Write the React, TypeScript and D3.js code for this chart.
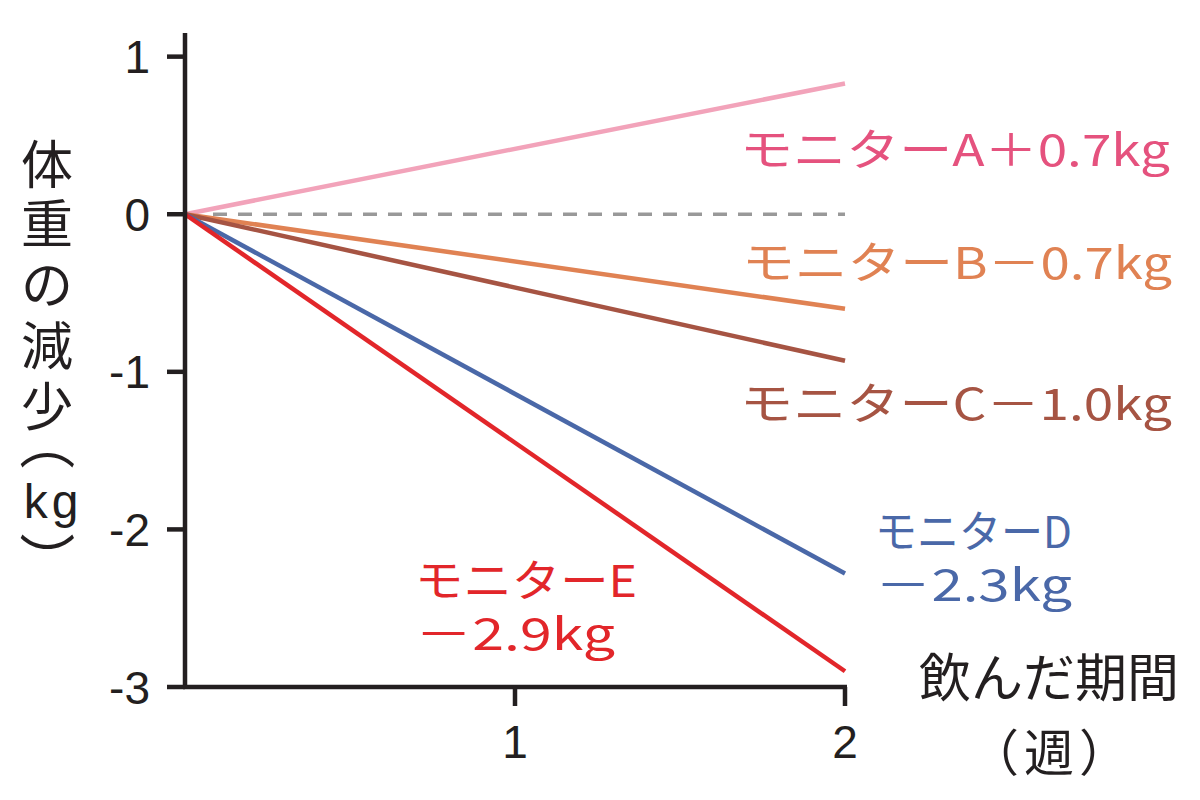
import React from "react";
import * as d3 from "d3";

const weeks = [0, 2];
const seriesNames = ["A", "B", "C", "D", "E"];
const seriesA = [0, 0.83];
const seriesB = [0, -0.6];
const seriesC = [0, -0.93];
const seriesD = [0, -2.28];
const seriesE = [0, -2.9];
const lineColors = ["#f2a3ba", "#e08253", "#a65443", "#4a68a8", "#e2262a"];
const labelColors = ["#e5527e", "#e08253", "#a65443", "#4a68a8", "#e2262a"];
const yTicks = [1, 0, -1, -2, -3];
const xTicks = [1, 2];
const yTitleChars = ["体", "重", "の", "減", "少"];
const yUnit = "kg";
const xTitle = "飲んだ期間";
const xUnitChars = ["（", "週", "）"];
const labelA = "モニターA＋0.7kg";
const labelB = "モニターB－0.7kg";
const labelC = "モニターC－1.0kg";
const labelD = ["モニターD", "－2.3kg"];
const labelE = ["モニターE", "－2.9kg"];

const JP = "'Noto Sans CJK JP', 'Noto Sans', sans-serif";
const NUM = "'Liberation Sans', Arial, sans-serif";

export default function App() {
  const x = d3.scaleLinear().domain([0, 2]).range([185, 845]);
  const y = d3.scaleLinear().domain([-3, 1.15]).range([687, 33]);
  const series = [seriesA, seriesB, seriesC, seriesD, seriesE];
  const line = d3
    .line<number>()
    .x((_, i) => x(weeks[i]))
    .y((d) => y(d));

  const yCenters = [161, 220, 281, 342, 403];
  const parenX = 50;
  const topParenY = 442;
  const botParenY = 560;
  const xUnitX = [994, 1049, 1104];

  return (
    <svg width={1200} height={800} style={{ position: "absolute", left: 0, top: 0, background: "#fff" }}>
      <rect width={1200} height={800} fill="#fff" />
      {/* zero dashed line */}
      <line x1={x(0) + 28} x2={x(2)} y1={y(0)} y2={y(0)} stroke="#999" strokeWidth={3.5} strokeDasharray="14 11" />
      {/* series lines */}
      {series.map((s, i) => (
        <path key={seriesNames[i]} d={line(s) || ""} fill="none" stroke={lineColors[i]} strokeWidth={4.5} />
      ))}
      {/* axes */}
      <line x1={x(0)} x2={x(0)} y1={y(1.15)} y2={y(-3) + 2} stroke="#231f20" strokeWidth={4.5} />
      <line x1={x(0) - 2} x2={x(2) + 2} y1={y(-3)} y2={y(-3)} stroke="#231f20" strokeWidth={4.5} />
      {yTicks.map((t) => (
        <g key={t}>
          <line x1={167} x2={x(0)} y1={y(t)} y2={y(t)} stroke="#231f20" strokeWidth={4.5} />
          <text x={150} y={y(t)} dy="0.36em" textAnchor="end" fontFamily={NUM} fontSize={46} fill="#231f20">
            {t < 0 ? `-${Math.abs(t)}` : t}
          </text>
        </g>
      ))}
      {xTicks.map((t) => (
        <g key={t}>
          <line x1={x(t)} x2={x(t)} y1={y(-3)} y2={706} stroke="#231f20" strokeWidth={4.5} />
          <text x={x(t)} y={758} textAnchor="middle" fontFamily={NUM} fontSize={46} fill="#231f20">
            {t}
          </text>
        </g>
      ))}
      {/* y title */}
      {yTitleChars.map((c, i) => (
        <text
          key={i}
          x={47}
          y={yCenters[i]}
          dominantBaseline="central"
          textAnchor="middle"
          fontFamily={JP}
          fontSize={52}
          fill="#231f20"
        >
          {c}
        </text>
      ))}
      <g transform={`translate(${parenX}, ${topParenY}) rotate(90)`}>
        <text x={0} y={0} dominantBaseline="central" textAnchor="middle" fontFamily={JP} fontSize={56} fill="#231f20">
          （
        </text>
      </g>
      <text x={53} y={518} textAnchor="middle" fontFamily={NUM} fontSize={48} letterSpacing={4} fill="#231f20">
        {yUnit}
      </text>
      <g transform={`translate(${parenX}, ${botParenY}) rotate(90)`}>
        <text x={0} y={0} dominantBaseline="central" textAnchor="middle" fontFamily={JP} fontSize={56} fill="#231f20">
          ）
        </text>
      </g>
      {/* x title */}
      <text x={1049} y={697} textAnchor="middle" fontFamily={JP} fontSize={52} fill="#231f20">
        {xTitle}
      </text>
      {xUnitChars.map((c, i) => (
        <text key={i} x={xUnitX[i]} y={771} textAnchor="middle" fontFamily={JP} fontSize={50} fill="#231f20">
          {c}
        </text>
      ))}
      {/* labels */}
      <text x={740} y={166} textLength={430} lengthAdjust="spacingAndGlyphs" fontFamily={JP} fontSize={44} fill={labelColors[0]}>
        {labelA}
      </text>
      <text x={742} y={279} textLength={430} lengthAdjust="spacingAndGlyphs" fontFamily={JP} fontSize={44} fill={labelColors[1]}>
        {labelB}
      </text>
      <text x={740} y={420} textLength={432} lengthAdjust="spacingAndGlyphs" fontFamily={JP} fontSize={44} fill={labelColors[2]}>
        {labelC}
      </text>
      <text x={875} y={548} textLength={197} lengthAdjust="spacingAndGlyphs" fontFamily={JP} fontSize={44} fill={labelColors[3]}>
        {labelD[0]}
      </text>
      <text x={875} y={601} textLength={197} lengthAdjust="spacingAndGlyphs" fontFamily={JP} fontSize={44} fill={labelColors[3]}>
        {labelD[1]}
      </text>
      <text x={415} y={597} textLength={222} lengthAdjust="spacingAndGlyphs" fontFamily={JP} fontSize={44} fill={labelColors[4]}>
        {labelE[0]}
      </text>
      <text x={415} y={650} textLength={200} lengthAdjust="spacingAndGlyphs" fontFamily={JP} fontSize={44} fill={labelColors[4]}>
        {labelE[1]}
      </text>
    </svg>
  );
}
